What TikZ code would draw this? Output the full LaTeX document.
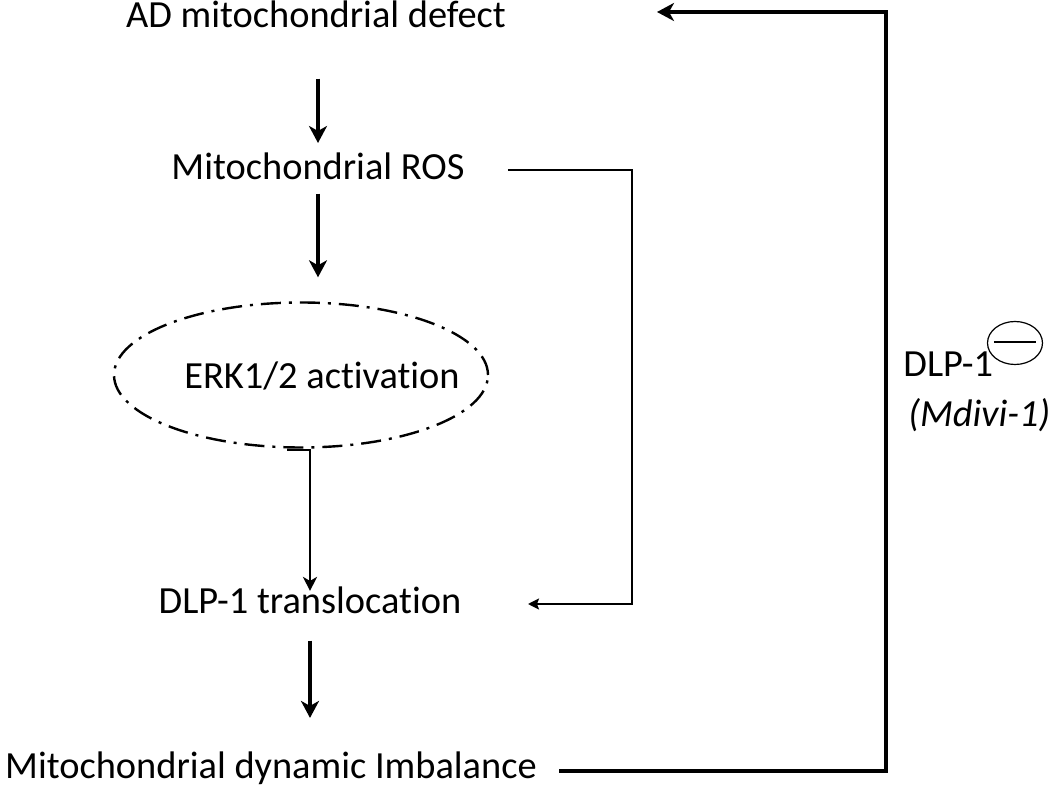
\documentclass[tikz,border=0pt]{standalone}
\usepackage{fontspec}
\setmainfont{Carlito}[RawFeature={-liga;-clig;-calt;-dlig}]
\usetikzlibrary{arrows.meta,shapes.geometric}
\begin{document}
\begin{tikzpicture}[x=0.5pt,y=-0.5pt,
  txt/.style={inner sep=0pt,anchor=base,font=\fontsize{19.2}{23}\selectfont},
  fat/.style={line width=2pt,-{Stealth[length=8.5pt,width=9pt,inset=2.5pt]}},
  mid/.style={line width=1.3pt,-{Stealth[length=7pt,width=7pt,inset=2pt]}},
  thinarr/.style={line width=1pt,-{Stealth[length=5.5pt,width=5.5pt,inset=1pt]}},
  dd/.style={draw,line width=1.2pt,dash pattern=on 10pt off 4pt on 1.5pt off 4pt}
]
\useasboundingbox (0,0) rectangle (1050,785);

\node[txt] (ad) at (316,28) {AD mitochondrial defect};
\node[txt] (ros) at (318,180) {Mitochondrial ROS};
\node[ellipse,dd,minimum width=187pt,minimum height=72.5pt,inner sep=0pt] (erk) at (301,375) {};
\node[txt] (erkt) at (322,389) {ERK1/2 activation};
\node[txt] (trans) at (310,614) {DLP-1 translocation};
\node[txt] (imb) at (271,778) {Mitochondrial dynamic Imbalance};

\node[txt,anchor=base west] (dlp) at (903,377) {DLP-1};
\node[ellipse,draw,line width=0.6pt,minimum width=27.5pt,minimum height=21.5pt,inner sep=0pt] (minus) at (1015,343) {};
\draw[line width=0.8pt] ([xshift=3.5pt,yshift=0.5pt]minus.west) -- ([xshift=-3.5pt,yshift=0.5pt]minus.east);
\node[txt,anchor=base west,font=\fontsize{19.2}{23}\selectfont\itshape] (mdivi) at (908,427) {(Mdivi-1)};

\coordinate (c1) at (287,450);
\coordinate (rc) at (632,604);
\coordinate (tt) at (528,604);
\coordinate (fbc) at (886,12);
\coordinate (tipc) at (657,12);

\draw[fat,shorten <=25pt] (ad.south -| 318,0) -- (318,143);
\draw[fat,shorten <=6.5pt,shorten >=12pt] (ros.south) -- (ros.south |- erk.north);
\draw[mid,shorten >=-2pt] (c1) -| (trans.north);
\draw[fat,shorten <=13pt,shorten >=16.5pt] (trans.south) -- (trans.south |- imb.north);

\draw[thinarr] ([xshift=21.5pt,yshift=-1.5pt]ros.east) -| (rc) -- (tt);

\draw[fat] ([xshift=11pt,yshift=3.5pt]imb.base east) -| (fbc) -- (tipc);
\end{tikzpicture}
\end{document}
